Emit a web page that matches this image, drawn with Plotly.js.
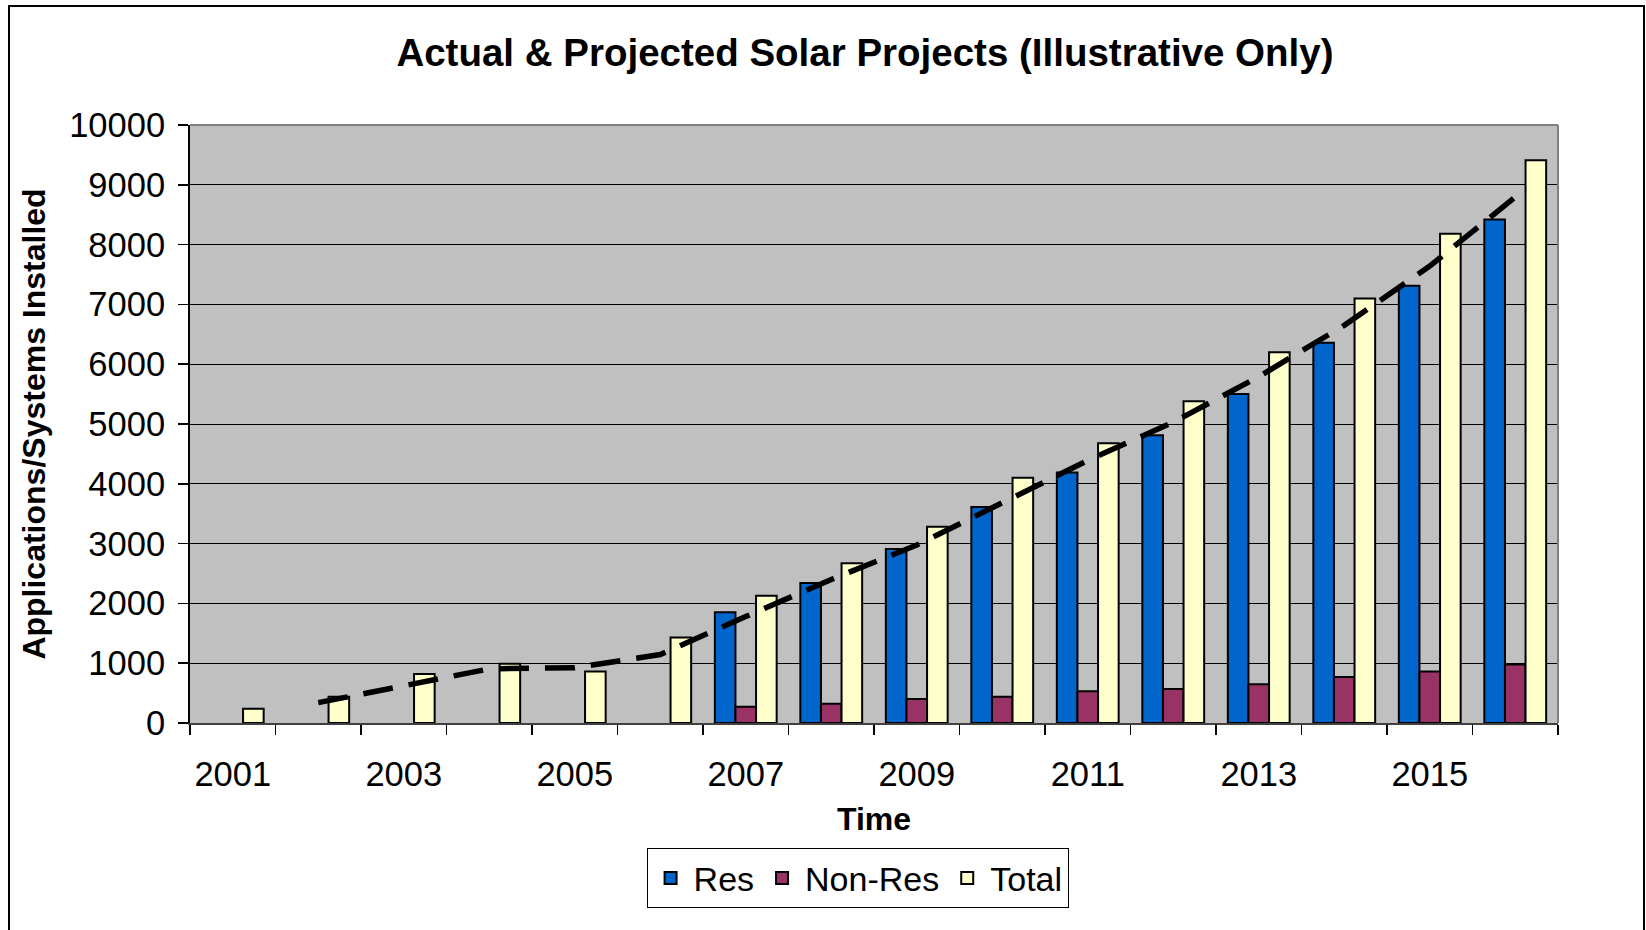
<!DOCTYPE html>
<html>
<head>
<meta charset="utf-8">
<script src="https://cdn.plot.ly/plotly-3.0.1.min.js"></script>
<style>
  html, body { margin: 0; padding: 0; background: #ffffff; }
  #wrap { position: relative; width: 1646px; height: 930px; overflow: hidden; }
  #chart { width: 1646px; height: 930px; }
  #frame { position: absolute; left: 8px; top: 5px; width: 1637px; height: 940px;
           border: 2px solid #000; pointer-events: none; box-sizing: border-box; }
</style>
</head>
<body>
<div id="wrap">
  <div id="chart"></div>
  <div id="frame"></div>
</div>
<script>
// ---- data ----
const years = [2001, 2002, 2003, 2004, 2005, 2006, 2007, 2008, 2009, 2010, 2011, 2012, 2013, 2014, 2015, 2016];
const resValues = [null, null, null, null, null, null, 1850, 2340, 2910, 3610, 4190, 4810, 5500, 6360, 7310, 8420];
const nonResValues = [null, null, null, null, null, null, 270, 320, 400, 440, 530, 570, 650, 770, 860, 980];
const totalValues = [240, 440, 820, 990, 860, 1430, 2130, 2670, 3280, 4100, 4680, 5380, 6200, 7100, 8180, 9410];
// dashed trend line (2-period moving average as drawn in the picture)
const trendYears = [2002, 2003, 2004, 2005, 2006, 2007, 2008, 2009, 2010, 2011, 2012, 2013, 2014, 2015, 2016];
const trendValues = [340, 630, 905, 925, 1145, 1780, 2400, 2975, 3690, 4390, 5030, 5790, 6650, 7640, 8795];
const tickYears = [2001, 2003, 2005, 2007, 2009, 2011, 2013, 2015];
const tickLabels = ['2001', '2003', '2005', '2007', '2009', '2011', '2013', '2015'];
const seriesNames = ['Res', 'Non-Res', 'Total'];

const FONT = 'Liberation Sans, Arial, Helvetica, sans-serif';
const outline = { color: '#000000', width: 2 };

const traces = [
  { type: 'bar', name: seriesNames[0], x: years, y: resValues,
    marker: { color: '#0066CC', line: outline } },
  { type: 'bar', name: seriesNames[1], x: years, y: nonResValues,
    marker: { color: '#993366', line: outline } },
  { type: 'bar', name: seriesNames[2], x: years, y: totalValues,
    marker: { color: '#FFFFCC', line: outline } },
  { type: 'scatter', mode: 'lines', x: trendYears, y: trendValues, showlegend: false,
    line: { color: '#000000', width: 5.5, dash: '30px,16px' }, hoverinfo: 'skip' }
];

const layout = {
  width: 1646, height: 930,
  margin: { l: 190, r: 88, t: 125, b: 207 },
  paper_bgcolor: '#ffffff',
  plot_bgcolor: '#C0C0C0',
  font: { family: FONT, color: '#000000' },
  barmode: 'group',
  bargap: 0.277,
  bargroupgap: 0,
  title: {
    text: '<b>Actual &amp; Projected Solar Projects (Illustrative Only)</b>',
    font: { size: 38.5, family: FONT, color: '#000000' },
    xref: 'container', x: 0.5255, xanchor: 'center',
    yref: 'container', y: 0.944, yanchor: 'middle'
  },
  xaxis: {
    range: [2000.5, 2016.5],
    tickmode: 'array', tickvals: tickYears, ticktext: tickLabels,
    ticks: '', showgrid: false, zeroline: false,
    showline: true, linecolor: '#404040', linewidth: 2,
    tickfont: { size: 34.5, family: FONT },
    ticklabelstandoff: 20,
    minor: { ticks: 'outside', tick0: 2000.5, dtick: 1, ticklen: 10,
             tickcolor: '#000000', tickwidth: 1.5, showgrid: false },
    title: { text: '<b>Time</b>', font: { size: 32, family: FONT }, standoff: 15 }
  },
  yaxis: {
    range: [0, 10000], tickmode: 'linear', tick0: 0, dtick: 1000,
    tickformat: 'd',
    ticks: 'outside', ticklen: 10, tickcolor: '#000000', tickwidth: 1.5,
    showline: true, linecolor: '#000000', linewidth: 2,
    showgrid: true, gridcolor: '#000000', gridwidth: 1, zeroline: false,
    tickfont: { size: 34.5, family: FONT },
    ticklabelstandoff: 6,
    title: { text: '<b>Applications/Systems Installed</b>', font: { size: 32, family: FONT }, standoff: 14 }
  },
  shapes: [
    { type: 'line', xref: 'paper', yref: 'paper', x0: 0, x1: 1, y0: 1, y1: 1,
      line: { color: '#808080', width: 2 }, layer: 'above' },
    { type: 'line', xref: 'paper', yref: 'paper', x0: 1, x1: 1, y0: 0, y1: 1,
      line: { color: '#808080', width: 2 }, layer: 'above' }
  ],
  legend: {
    orientation: 'h', x: 0.488, xanchor: 'center', y: -0.2096, yanchor: 'top',
    bordercolor: '#000000', borderwidth: 1, bgcolor: '#ffffff',
    font: { size: 34, family: FONT }, traceorder: 'normal', itemwidth: 36
  },
  showlegend: true
};

Plotly.newPlot('chart', traces, layout, { displayModeBar: false, staticPlot: true });
</script>
</body>
</html>
